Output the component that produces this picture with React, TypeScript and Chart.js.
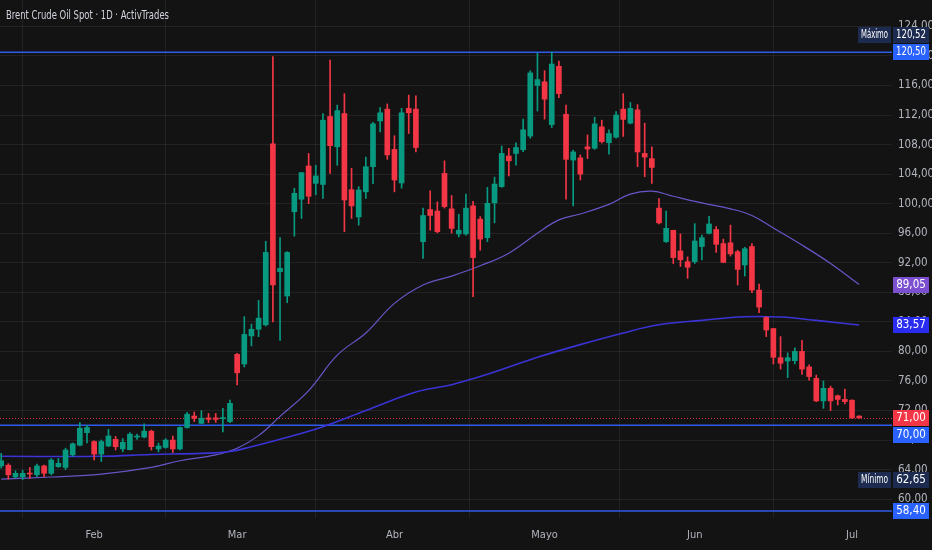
import React, { useEffect, useRef } from "react";
import { Chart, registerables } from "chart.js";

Chart.register(...registerables);

const TITLE = "Brent Crude Oil Spot · 1D · ActivTrades";

// Daily candles, one entry per trading day (mid-January → 2 July)
const opens = [
  64.5, 64.6, 63.0, 63.0, 63.5, 63.3, 64.5, 63.5, 64.4, 64.3,
  66.0, 67.3, 69.0, 67.8, 66.1, 67.2, 68.1, 66.8, 66.7, 68.4,
  68.4, 69.2, 66.8, 67.0, 68.0, 66.8, 69.7, 71.25, 70.26, 71.0,
  71.0, 70.9, 70.5, 79.6, 78.3, 82.1, 83.0, 83.6, 108.1, 90.8,
  87.5, 98.9, 100.6, 105.1, 102.75, 102.6, 111.8, 107.7, 112.2, 101.9,
  98.2, 101.6, 105.0, 111.2, 112.8, 107.35, 102.8, 112.9, 112.8, 94.85,
  99.2, 99.0, 104.1, 99.3, 95.9, 95.9, 99.7, 97.9, 95.4, 100.1,
  102.3, 106.45, 106.8, 107.3, 109.15, 116.0, 116.5, 110.7, 118.6, 112.1,
  105.9, 106.2, 107.7, 107.5, 110.4, 108.25, 109.0, 112.8, 110.9, 112.7,
  106.8, 106.1, 99.4, 94.85, 96.4, 93.6, 92.15, 92.15, 94.2, 95.98,
  96.5, 94.6, 94.7, 93.5, 91.7, 94.2, 88.3, 84.6, 83.1, 79.15,
  78.7, 78.75, 80.0, 77.9, 76.35, 73.3, 75.0, 74.0, 73.5, 73.4,
  71.25,
];
const highs = [
  66.2, 64.8, 63.85, 63.9, 64.3, 64.75, 64.6, 65.5, 65.5, 66.9,
  67.6, 70.35, 70.0, 67.9, 68.0, 69.45, 68.5, 68.2, 69.0, 68.8,
  70.2, 69.35, 67.6, 68.2, 68.55, 69.8, 71.75, 71.8, 71.98, 71.6,
  71.6, 72.3, 73.4, 79.74, 84.7, 83.7, 86.9, 94.9, 119.9, 95.4,
  93.5, 102.1, 104.2, 106.8, 105.2, 112.2, 119.45, 113.35, 114.9, 104.8,
  102.3, 106.3, 111.0, 113.0, 113.5, 109.2, 112.9, 114.7, 114.6, 99.4,
  101.75, 100.25, 105.8, 101.1, 98.55, 101.3, 100.3, 98.25, 102.2, 103.6,
  107.8, 107.5, 108.25, 111.45, 118.0, 120.35, 118.0, 120.52, 119.3, 113.35,
  107.25, 106.6, 109.3, 111.7, 111.3, 110.0, 112.45, 114.9, 113.7, 113.4,
  110.9, 107.7, 100.7, 99.0, 96.4, 95.9, 92.8, 97.3, 95.75, 98.3,
  96.9, 95.2, 97.1, 93.7, 94.1, 94.6, 89.1, 84.7, 83.1, 82.0,
  79.8, 80.5, 81.5, 78.2, 76.8, 76.0, 75.3, 74.1, 74.9, 73.45,
  71.3,
];
const lows = [
  64.2, 62.7, 62.9, 62.65, 62.8, 63.05, 63.0, 63.3, 64.3, 64.0,
  65.8, 67.2, 67.6, 65.3, 65.1, 67.1, 66.65, 66.4, 66.65, 68.1,
  68.3, 66.65, 66.4, 66.9, 66.3, 66.65, 69.6, 70.5, 70.2, 70.35,
  70.4, 69.1, 70.35, 75.45, 77.9, 80.75, 82.0, 83.45, 84.0, 81.5,
  86.6, 95.6, 98.0, 100.0, 101.2, 100.7, 104.1, 105.2, 96.2, 98.0,
  97.1, 100.7, 102.7, 109.7, 106.0, 101.6, 102.1, 109.5, 107.0, 92.6,
  96.4, 96.05, 99.4, 96.0, 95.5, 95.75, 87.4, 93.7, 94.85, 97.4,
  102.2, 103.75, 105.2, 107.05, 108.85, 112.55, 111.45, 110.3, 114.35, 100.6,
  99.7, 103.2, 106.1, 107.35, 108.2, 106.7, 108.85, 109.1, 110.8, 105.0,
  103.65, 102.75, 97.25, 94.76, 91.9, 91.5, 89.9, 91.9, 92.4, 95.9,
  93.4, 92.0, 92.9, 89.0, 90.2, 87.95, 85.25, 82.0, 78.3, 77.6,
  76.45, 78.3, 76.9, 76.1, 73.2, 72.3, 72.0, 72.75, 72.9, 70.9,
  70.95,
];
const closes = [
  65.2, 63.3, 63.5, 63.5, 63.4, 64.5, 63.5, 65.3, 64.85, 66.65,
  67.5, 69.6, 69.7, 66.1, 67.8, 68.55, 67.1, 67.7, 68.8, 68.55,
  69.2, 67.1, 67.2, 68.0, 66.8, 69.7, 71.5, 70.95, 70.95, 70.8,
  70.8, 71.0, 72.97, 77.1, 82.3, 83.0, 84.5, 93.4, 89.0, 91.25,
  93.4, 101.4, 104.2, 101.0, 103.75, 111.3, 107.85, 112.6, 100.5, 99.7,
  101.85, 105.0, 110.8, 112.3, 106.6, 103.2, 112.3, 112.3, 107.6, 98.4,
  98.4, 96.2, 99.6, 96.65, 96.4, 99.4, 92.7, 95.2, 100.05, 102.65,
  106.8, 105.8, 107.6, 110.0, 117.7, 116.8, 114.15, 118.9, 114.9, 106.0,
  107.0, 104.0, 107.4, 110.8, 108.4, 109.5, 112.0, 111.4, 112.9, 107.0,
  106.3, 104.9, 97.4, 96.66, 92.7, 92.4, 91.4, 94.95, 95.4, 97.25,
  94.5, 92.05, 93.2, 91.1, 93.9, 88.3, 86.0, 82.9, 79.2, 78.4,
  79.15, 80.0, 77.6, 76.6, 73.3, 75.0, 73.3, 73.5, 73.2, 71.0,
  71.0,
];

// Month ticks (trading-day index of the first session of each month)
const monthTickIndex = [13, 33, 55, 76, 97, 119];
const monthLabels = ["Feb", "Mar", "Abr", "Mayo", "Jun", "Jul"];

// Price-axis ticks
const yTickValues = [60, 64, 68, 72, 76, 80, 84, 88, 92, 96, 100, 104, 108, 112, 116, 120, 124];

// Moving averages (trading-day index, value)
const fastMaIndex = [0, 7, 14, 21, 25, 30, 33, 36, 39, 43, 47, 51, 55, 59, 63, 67, 71, 75, 78, 81, 85, 88, 91, 94, 98, 102, 105, 108, 112, 116, 120];
const fastMaValues = [62.7, 63.0, 63.4, 64.3, 65.2, 66.0, 66.9, 68.6, 71.2, 74.7, 79.5, 82.5, 86.5, 89.0, 90.2, 91.6, 93.3, 96.0, 97.8, 98.6, 99.9, 101.3, 101.7, 101.0, 100.1, 99.3, 98.4, 96.7, 94.4, 91.9, 89.05];
const slowMaIndex = [0, 14, 21, 28, 32, 35, 39, 45, 51, 58, 63, 68, 75, 80, 87, 92, 98, 104, 109, 114, 120];
const slowMaValues = [65.8, 65.8, 66.05, 66.2, 66.45, 67.1, 68.1, 69.8, 72.0, 74.5, 75.5, 76.9, 79.2, 80.65, 82.5, 83.6, 84.2, 84.7, 84.65, 84.2, 83.57];

// Horizontal levels and reference prices
const levelValues = [120.5, 70.0, 58.4];
const currentPrice = 71.0;
const maxPrice = 120.52;
const minPrice = 62.65;
const fastMaLast = 89.05;
const slowMaLast = 83.57;

const FONT = '"Liberation Sans Narrow", "DejaVu Sans Condensed", "Roboto", sans-serif';
const BG = "#131313";
const GRID = "rgba(255,255,255,0.065)";
const GREEN = "#089981";
const RED = "#f23645";
const TEXT = "#b2b5be";

const fmt = (v: number) => v.toFixed(2).replace(".", ",");

const fitText = (ctx: CanvasRenderingContext2D, text: string, x: number, y: number, maxW: number, exactW = false) => {
  const w = ctx.measureText(text).width;
  const s = exactW ? maxW / w : Math.min(1, maxW / w);
  ctx.save();
  ctx.translate(x, y);
  ctx.scale(s, 1);
  ctx.fillText(text, 0, 0);
  ctx.restore();
};

const overlayPlugin = {
  id: "overlay",
  beforeDraw(chart: any) {
    const { ctx, width, height } = chart;
    ctx.save();
    ctx.fillStyle = BG;
    ctx.fillRect(0, 0, width, height);
    ctx.restore();
  },
  beforeDatasetsDraw(chart: any) {
    const { ctx, chartArea: a, scales } = chart;
    const y = scales.y;
    ctx.save();
    ctx.strokeStyle = "#2f5bea";
    ctx.lineWidth = 1.5;
    levelValues.forEach((v) => {
      const py = y.getPixelForValue(v);
      ctx.beginPath();
      ctx.moveTo(a.left, py);
      ctx.lineTo(a.right, py);
      ctx.stroke();
    });
    const pc = Math.round(y.getPixelForValue(currentPrice)) + 0.5;
    ctx.strokeStyle = "rgba(242,54,69,0.85)";
    ctx.lineWidth = 1;
    ctx.setLineDash([1, 2]);
    ctx.beginPath();
    ctx.moveTo(a.left, pc);
    ctx.lineTo(a.right, pc);
    ctx.stroke();
    ctx.restore();
  },
  afterDraw(chart: any) {
    const { ctx, chartArea: a, scales } = chart;
    const y = scales.y;
    ctx.save();
    // title
    ctx.fillStyle = "#d1d4dc";
    ctx.font = `12px ${FONT}`;
    ctx.textBaseline = "middle";
    ctx.textAlign = "left";
    fitText(ctx, TITLE, 6, 16, 163, true);

    const boxH = 16;
    const boxW = 36;
    const bx = a.right + 1;
    const box = (cy: number, bg: string, text: string, x = bx, w = boxW) => {
      ctx.fillStyle = bg;
      ctx.fillRect(x, Math.round(cy - boxH / 2), w, boxH);
      ctx.fillStyle = "#ffffff";
      ctx.font = `11.5px ${FONT}`;
      ctx.textAlign = "center";
      ctx.textBaseline = "middle";
      fitText(ctx, text, x + w / 2, Math.round(cy) + 0.5, w - 6);
    };

    const pLevelTop = y.getPixelForValue(levelValues[0]);
    let pMax = y.getPixelForValue(maxPrice);
    if (Math.abs(pMax - pLevelTop) < boxH + 1) pMax = pLevelTop - (boxH + 1);
    const pCur = y.getPixelForValue(currentPrice);
    let p70 = y.getPixelForValue(levelValues[1]);
    if (Math.abs(p70 - pCur) < boxH + 1) p70 = pCur + (boxH + 1);
    const pMin = y.getPixelForValue(minPrice);

    const NAVY = "#1d2b50";
    box(pMax, NAVY, "Máximo", bx - 35, 33);
    box(pMax, NAVY, fmt(maxPrice));
    box(pLevelTop, "#2962ff", fmt(levelValues[0]));
    box(y.getPixelForValue(fastMaLast), "#7b4fd0", fmt(fastMaLast));
    box(y.getPixelForValue(slowMaLast), "#2a2cf0", fmt(slowMaLast));
    box(pCur, RED, fmt(currentPrice));
    box(p70, "#2962ff", fmt(levelValues[1]));
    box(pMin, NAVY, "Mínimo", bx - 35, 33);
    box(pMin, NAVY, fmt(minPrice));
    box(y.getPixelForValue(levelValues[2]), "#2962ff", fmt(levelValues[2]));
    ctx.restore();
  },
};

export default function App() {
  const ref = useRef<HTMLCanvasElement | null>(null);

  useEffect(() => {
    if (!ref.current) return;
    const colors = closes.map((c, i) => (c >= opens[i] ? GREEN : RED));
    const wicks = lows.map((l, i) => ({ x: i, y: [l, highs[i]] }));
    const bodies = opens.map((o, i) => ({ x: i, y: [o, closes[i]] }));
    const fast = fastMaIndex.map((k, i) => ({ x: k, y: fastMaValues[i] }));
    const slow = slowMaIndex.map((k, i) => ({ x: k, y: slowMaValues[i] }));

    const chart = new Chart(ref.current, {
      type: "bar",
      data: {
        datasets: [
          {
            type: "line",
            data: fast as any,
            borderColor: "#6656c8",
            borderWidth: 1.2,
            pointRadius: 0,
            tension: 0.4,
            order: 4,
          } as any,
          {
            type: "line",
            data: slow as any,
            borderColor: "#3b33d6",
            borderWidth: 1.6,
            pointRadius: 0,
            tension: 0.4,
            order: 3,
          } as any,
          {
            data: wicks as any,
            backgroundColor: colors,
            barThickness: 1,
            grouped: false,
            order: 2,
          } as any,
          {
            data: bodies as any,
            backgroundColor: colors,
            barThickness: 5,
            minBarLength: 1,
            grouped: false,
            order: 1,
          } as any,
        ],
      },
      options: {
        responsive: false,
        animation: false,
        layout: { padding: 0 },
        plugins: {
          legend: { display: false },
          tooltip: { enabled: false },
          title: { display: false },
        },
        scales: {
          x: {
            type: "linear",
            min: -0.168,
            max: 124.59,
            offset: false,
            border: { display: false },
            grid: { color: GRID, drawTicks: false },
            afterBuildTicks: (s: any) => {
              s.ticks = monthTickIndex.map((v) => ({ value: v }));
            },
            afterFit: (s: any) => {
              s.height = 32;
              s.paddingLeft = 0;
              s.paddingRight = 0;
            },
            ticks: {
              autoSkip: false,
              maxRotation: 0,
              padding: 11,
              color: TEXT,
              font: { family: FONT, size: 11 },
              callback: (_v: any, i: number) => monthLabels[i],
            },
          },
          y: {
            type: "linear",
            position: "right",
            min: 57.45,
            max: 127.57,
            border: { display: false },
            grid: { color: GRID, drawTicks: false },
            afterBuildTicks: (s: any) => {
              s.ticks = yTickValues.map((v) => ({ value: v }));
            },
            afterFit: (s: any) => {
              s.width = 40;
              s.paddingTop = 0;
              s.paddingBottom = 0;
            },
            ticks: {
              autoSkip: false,
              padding: 6,
              color: TEXT,
              font: { family: FONT, size: 11.5 },
              callback: (v: any) => fmt(Number(v)),
            },
          },
        },
      },
      plugins: [overlayPlugin],
    });
    return () => chart.destroy();
  }, []);

  return (
    <div style={{ position: "fixed", left: 0, top: 0, width: 932, height: 550, background: BG }}>
      <canvas ref={ref} width={932} height={550} style={{ display: "block" }} />
    </div>
  );
}
